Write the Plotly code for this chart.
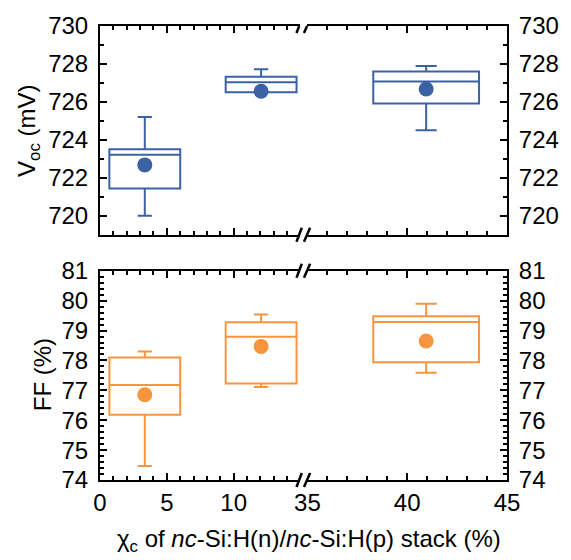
import plotly.graph_objects as go

# ---------------- data ----------------
x_pos = [3.35, 12.05, 40.95]          # box centres (chi_c, %)
box_w = 5.3

voc_q1 = [721.44, 726.51, 725.92]
voc_med = [723.22, 727.03, 727.08]
voc_q3 = [723.51, 727.32, 727.60]
voc_lo = [720.00, 726.51, 724.51]
voc_hi = [725.21, 727.72, 727.89]
voc_mean = [722.68, 726.56, 726.68]

ff_q1 = [76.18, 77.23, 77.94]
ff_med = [77.18, 78.79, 79.29]
ff_q3 = [78.10, 79.28, 79.48]
ff_lo = [74.47, 77.11, 77.59]
ff_hi = [78.30, 79.54, 79.90]
ff_mean = [76.85, 78.47, 78.65]

x_left_ticks = [0, 5, 10]
x_right_ticks = [35, 40, 45]

BLUE = "#3B62A3"
ORANGE = "#F7953F"
FONT = "Liberation Sans, Arial, sans-serif"
FS = 24

W, H = 571, 560
ML, MR, MT, MB = 100, 51, 20, 80
PW, PH = W - ML - MR, H - MT - MB


def px_x(p):
    return (p - ML) / PW


def px_y(p):
    return (MT + PH - p) / PH


top_dom = [px_y(231.5), 1.0]
bot_dom = [0.0, px_y(268)]
left_dom = [0.0, px_x(306)]
right_dom = [px_x(314), 1.0]

fig = go.Figure()


def add_boxes(idx, xa, ya, q1, med, q3, lo, hi, mean, color):
    fig.add_trace(go.Box(
        x=[x_pos[i] for i in idx], q1=[q1[i] for i in idx], median=[med[i] for i in idx],
        q3=[q3[i] for i in idx], lowerfence=[lo[i] for i in idx], upperfence=[hi[i] for i in idx],
        width=box_w, whiskerwidth=0.2, boxpoints=False,
        line=dict(color=color, width=2), fillcolor="rgba(0,0,0,0)",
        xaxis=xa, yaxis=ya, showlegend=False, hoverinfo="skip"))
    fig.add_trace(go.Scatter(
        x=[x_pos[i] for i in idx], y=[mean[i] for i in idx], mode="markers",
        marker=dict(color=color, size=15), xaxis=xa, yaxis=ya,
        showlegend=False, hoverinfo="skip"))


add_boxes([0, 1], "x", "y", voc_q1, voc_med, voc_q3, voc_lo, voc_hi, voc_mean, BLUE)
add_boxes([2], "x2", "y2", voc_q1, voc_med, voc_q3, voc_lo, voc_hi, voc_mean, BLUE)
add_boxes([0, 1], "x3", "y3", ff_q1, ff_med, ff_q3, ff_lo, ff_hi, ff_mean, ORANGE)
add_boxes([2], "x4", "y4", ff_q1, ff_med, ff_q3, ff_lo, ff_hi, ff_mean, ORANGE)

tickfont = dict(family=FONT, size=FS, color="black")


def xax(dom, rng, anchor, labels):
    return dict(domain=dom, range=rng, anchor=anchor, showline=True, linewidth=2,
                linecolor="black", mirror="ticks", ticks="inside", ticklen=7,
                tickwidth=1.5, tickcolor="black", showgrid=False, zeroline=False,
                tickmode="linear", tick0=0, dtick=5, showticklabels=labels,
                tickfont=tickfont,
                minor=dict(tickmode="linear", tick0=0, dtick=1, ticks="inside", ticklen=4,
                           tickwidth=1.5, tickcolor="black", showgrid=False))


def yax(dom, rng, anchor, side, dtick, tick0, mdtick):
    return dict(domain=dom, range=rng, anchor=anchor, side=side, showline=True,
                linewidth=2, linecolor="black", ticks="inside", ticklen=7,
                tickwidth=1.5, tickcolor="black", showgrid=False, zeroline=False,
                tickmode="linear", tick0=tick0, dtick=dtick, tickfont=tickfont,
                ticklabelstandoff=5,
                minor=dict(tickmode="linear", tick0=tick0, dtick=mdtick, ticks="inside",
                           ticklen=4, tickwidth=1.5, tickcolor="black", showgrid=False))


voc_range = [719.0, 730.0]
ff_range = [74.0, 81.0]

fig.update_layout(
    width=W, height=H, margin=dict(l=ML, r=MR, t=MT, b=MB),
    paper_bgcolor="white", plot_bgcolor="white",
    font=dict(family=FONT, size=FS, color="black"),
    xaxis=xax(left_dom, [0, 14.93], "y", False),
    xaxis2=xax(right_dom, [35, 45], "y2", False),
    xaxis3=xax(left_dom, [0, 14.93], "y3", True),
    xaxis4=xax(right_dom, [35, 45], "y4", True),
    yaxis=yax(top_dom, voc_range, "x", "left", 2, 720, 1),
    yaxis2=yax(top_dom, voc_range, "x2", "right", 2, 720, 1),
    yaxis3=yax(bot_dom, ff_range, "x3", "left", 1, 74, 0.2),
    yaxis4=yax(bot_dom, ff_range, "x4", "right", 1, 74, 0.2),
)

# axis titles
fig.add_annotation(text="V<sub>oc</sub> (mV)", xref="paper", yref="paper",
                   x=px_x(26), y=px_y(126), textangle=-90, showarrow=False,
                   xanchor="center", yanchor="middle", font=dict(family=FONT, size=FS))
fig.add_annotation(text="FF (%)", xref="paper", yref="paper",
                   x=px_x(41), y=px_y(373), textangle=-90, showarrow=False,
                   xanchor="center", yanchor="middle", font=dict(family=FONT, size=FS))
fig.add_annotation(text="χ<sub>c</sub> of <i>nc</i>-Si:H(n)/<i>nc</i>-Si:H(p) stack (%)",
                   xref="paper", yref="paper", x=px_x(316), y=px_y(541),
                   showarrow=False, xanchor="center", yanchor="middle",
                   font=dict(family=FONT, size=FS))

# axis-break marks
bx = px_x(309.6)
edges = [(px_y(20), True), (px_y(231.5), False), (px_y(268), False), (px_y(480), False)]
for ey, top_only in edges:
    for (xa, xb) in [(-6.6, -1.3), (0.9, 7.0)]:
        if top_only:
            y0, y1 = -7, 0
            xa2, xb2 = xa, xa + (xb - xa) / 2
        else:
            y0, y1 = -7, 7
            xa2, xb2 = xa, xb
        fig.add_shape(type="line", xref="paper", yref="paper",
                      xsizemode="pixel", ysizemode="pixel", xanchor=bx, yanchor=ey,
                      x0=xa2, x1=xb2, y0=y0, y1=y1,
                      line=dict(color="black", width=2.5))

fig.write_html("out.html")
